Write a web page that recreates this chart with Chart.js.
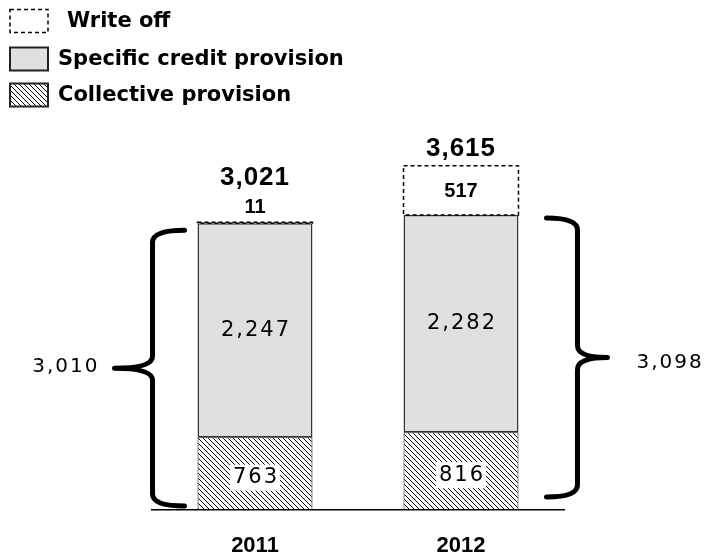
<!DOCTYPE html>
<html>
<head>
<meta charset="utf-8">
<script src="https://cdn.jsdelivr.net/npm/chart.js@4/dist/chart.umd.min.js"></script>
<style>
  html, body { margin: 0; padding: 0; background: #fff; }
  canvas { display: block; }
</style>
</head>
<body>
<canvas id="provChart" width="708" height="560"></canvas>
<script>
// data
const years = ['2011', '2012'];
const collective = [763, 816];
const specific = [2247, 2282];
const writeOff = [11, 517];
const totals = [3021, 3615];
const seriesNames = ['Write off', 'Specific credit provision', 'Collective provision'];

// diagonal hatch for the collective provision
function makeHatch() {
    const s = 5;
    const c = document.createElement('canvas');
    c.width = s; c.height = s;
    const p = c.getContext('2d');
    p.fillStyle = '#fff';
    p.fillRect(0, 0, s, s);
    p.strokeStyle = '#000';
    p.lineWidth = 1;
    p.beginPath();
    p.moveTo(-1, -1); p.lineTo(s + 1, s + 1);
    p.moveTo(-1, s - 1); p.lineTo(1, s + 1);
    p.moveTo(s - 1, -1); p.lineTo(s + 1, 1);
    p.stroke();
    return p.createPattern(c, 'repeat');
}
const hatch = makeHatch();

function fmt(v) {
    return v.toLocaleString('en-US');
}

// curly brace, xEnd = side facing the bar, xTip = pointed side
function drawBrace(ctx, xLine, xEnd, xTip, yTop, yBot) {
    const yMid = (yTop + yBot) / 2;
    const r = 12;
    ctx.save();
    ctx.strokeStyle = '#000';
    ctx.lineWidth = 5;
    ctx.lineCap = 'round';
    ctx.lineJoin = 'round';
    ctx.beginPath();
    ctx.moveTo(xEnd, yTop);
    ctx.quadraticCurveTo(xLine, yTop, xLine, yTop + r);
    ctx.lineTo(xLine, yMid - r);
    ctx.quadraticCurveTo(xLine, yMid, xTip, yMid);
    ctx.quadraticCurveTo(xLine, yMid, xLine, yMid + r);
    ctx.lineTo(xLine, yBot - r);
    ctx.quadraticCurveTo(xLine, yBot, xEnd, yBot);
    ctx.stroke();
    ctx.restore();
}

const extras = {
    id: 'extras',
    afterDatasetsDraw(chart) {
        const ctx = chart.ctx;
        const yScale = chart.scales.y;
        const colMeta = chart.getDatasetMeta(0);
        const specMeta = chart.getDatasetMeta(1);
        const woMeta = chart.getDatasetMeta(2);

        ctx.save();
        ctx.textAlign = 'center';
        ctx.textBaseline = 'middle';
        ctx.fillStyle = '#000';

        years.forEach((yr, i) => {
            // dashed write-off box
            const wo = woMeta.data[i].getProps(['x', 'y', 'base', 'width'], true);
            const left = wo.x - wo.width / 2;
            ctx.save();
            ctx.strokeStyle = '#000';
            ctx.lineWidth = 1.5;
            ctx.setLineDash([4, 3]);
            ctx.strokeRect(left, wo.y, wo.width, wo.base - wo.y);
            ctx.restore();

            // write-off value and total
            ctx.font = 'bold 20px "Liberation Sans", Arial, sans-serif';
            let topY;
            if (wo.base - wo.y > 30) {
                ctx.fillText(fmt(writeOff[i]), wo.x, wo.y + 26);
                topY = wo.y - 17;
            } else {
                ctx.fillText(fmt(writeOff[i]), wo.x, wo.y - 15);
                topY = wo.y - 44;
            }
            ctx.font = 'bold 26px "Liberation Sans", Arial, sans-serif';
            ctx.letterSpacing = '1px';
            ctx.fillText(fmt(totals[i]), wo.x, topY);

            // specific value
            const sp = specMeta.data[i].getProps(['x', 'y', 'base'], true);
            ctx.font = '21px "DejaVu Sans", Verdana, sans-serif';
            ctx.letterSpacing = '2px';
            ctx.fillText(fmt(specific[i]), sp.x + 1, (sp.y + sp.base) / 2);

            // collective value on white box
            const co = colMeta.data[i].getProps(['x', 'y', 'base'], true);
            const cy = (co.y + co.base) / 2 + 4;
            const tw = ctx.measureText(fmt(collective[i])).width;
            ctx.fillStyle = '#fff';
            ctx.fillRect(co.x - tw / 2 - 2, cy - 13, tw + 4, 26);
            ctx.fillStyle = '#000';
            ctx.fillText(fmt(collective[i]), co.x + 1, cy);
            ctx.letterSpacing = '0px';
        });

        // braces around the provisions
        ctx.font = '20px "DejaVu Sans", Verdana, sans-serif';
        ctx.letterSpacing = '2px';
        const base = yScale.getPixelForValue(0);
        const b0 = specMeta.data[0].getProps(['x', 'y', 'width'], true);
        const left0 = b0.x - b0.width / 2;
        drawBrace(ctx, left0 - 45, left0 - 13, left0 - 83, b0.y + 7, base - 4);
        ctx.textAlign = 'right';
        ctx.fillText(fmt(collective[0] + specific[0]), left0 - 98, (b0.y + base) / 2);

        const b1 = specMeta.data[1].getProps(['x', 'y', 'width'], true);
        const right1 = b1.x + b1.width / 2;
        drawBrace(ctx, right1 + 59, right1 + 28, right1 + 89, b1.y + 3, base - 13);
        ctx.textAlign = 'left';
        ctx.fillText(fmt(collective[1] + specific[1]), right1 + 118, (b1.y + base) / 2);
        ctx.letterSpacing = '0px';

        // legend
        const rows = [21, 59, 95];
        const boxX = 10, boxW = 38, boxH = 23;
        ctx.textAlign = 'left';
        ctx.font = 'bold 21px "DejaVu Sans", Verdana, sans-serif';
        rows.forEach((ry, k) => {
            const bx = boxX, by = ry - boxH / 2;
            ctx.save();
            if (k === 0) {
                ctx.setLineDash([4, 3]);
                ctx.lineWidth = 1.5;
                ctx.strokeStyle = '#000';
                ctx.strokeRect(bx, by, boxW, boxH);
            } else {
                ctx.fillStyle = k === 1 ? '#e0e0e0' : hatch;
                ctx.fillRect(bx, by, boxW, boxH);
                ctx.lineWidth = 2;
                ctx.strokeStyle = '#222';
                ctx.strokeRect(bx, by, boxW, boxH);
            }
            ctx.restore();
            ctx.fillStyle = '#000';
            ctx.fillText(seriesNames[k], k === 0 ? 67 : 58, ry + 1);
        });
        ctx.restore();
    }
};

const chart = new Chart(document.getElementById('provChart'), {
    type: 'bar',
    data: {
        labels: years,
        datasets: [
            {
                label: seriesNames[2],
                data: collective,
                backgroundColor: hatch,
                borderColor: '#000',
                borderWidth: 1,
                borderSkipped: false
            },
            {
                label: seriesNames[1],
                data: specific,
                backgroundColor: '#e0e0e0',
                borderColor: '#333',
                borderWidth: 1.5,
                borderSkipped: false
            },
            {
                label: seriesNames[0],
                data: writeOff,
                backgroundColor: '#fff',
                borderWidth: 0
            }
        ]
    },
    options: {
        responsive: false,
        animation: false,
        layout: { padding: { top: 110, left: 152, right: 144, bottom: 0 } },
        datasets: { bar: { categoryPercentage: 1, barPercentage: 0.558 } },
        scales: {
            x: {
                stacked: true,
                grid: { display: false },
                border: { display: true, color: '#000', width: 1.5 },
                ticks: {
                    color: '#000',
                    padding: 15,
                    font: { family: '"Liberation Sans", Arial, sans-serif', size: 22, weight: 'bold' }
                },
                afterFit(scale) {
                    scale.height = 50;
                }
            },
            y: { stacked: true, display: false, min: 0, max: 4200 }
        },
        plugins: {
            legend: { display: false },
            tooltip: { enabled: false }
        }
    },
    plugins: [extras]
});
</script>
</body>
</html>
